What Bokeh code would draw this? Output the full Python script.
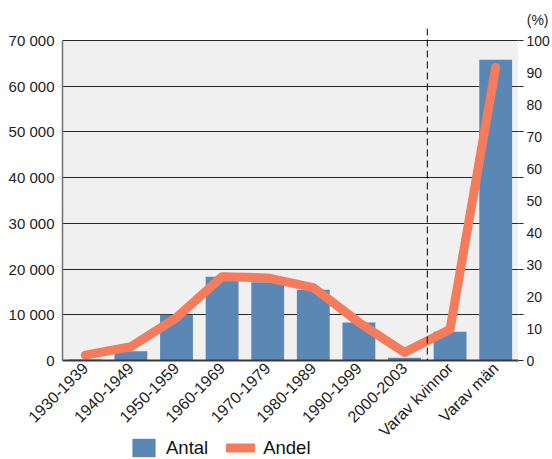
from math import pi
from bokeh.plotting import figure
from bokeh.layouts import column
from bokeh.models import (FactorRange, Range1d, LinearAxis, FixedTicker, Span,
                          BoxAnnotation, Legend, LegendItem, ColumnDataSource)
from bokeh.embed import file_html
from bokeh.resources import INLINE

categories = ["1930-1939", "1940-1949", "1950-1959", "1960-1969", "1970-1979",
              "1980-1989", "1990-1999", "2000-2003", "Varav kvinnor", "Varav män"]
antal = [200, 2000, 10000, 18300, 17100, 15500, 8300, 600, 6300, 65800]
andel = [1.7, 4.3, 13.4, 26.2, 25.8, 22.8, 11.9, 2.5, 9.8, 91.6]
left_ticks = [0, 10000, 20000, 30000, 40000, 50000, 60000, 70000]
left_labels = ["0", "10 000", "20 000", "30 000", "40 000", "50 000", "60 000", "70 000"]
right_ticks = [0, 10, 20, 30, 40, 50, 60, 70, 80, 90, 100]
series_names = ["Antal", "Andel"]
divider_after = "2000-2003"

FONT = "Liberation Sans"
BAR = "#5b87b5"
LINE = "#f47b5c"
HEADROOM = 1 + 12 / 320  # frame extends a little above the top gridline

src = ColumnDataSource(dict(cat=categories, antal=antal, andel=andel))

p = figure(width=552, height=448, output_backend="svg", toolbar_location=None,
           x_range=FactorRange(factors=categories, range_padding=0),
           y_range=Range1d(0, left_ticks[-1] * HEADROOM),
           min_border_left=62, min_border_right=34, min_border_top=28,
           min_border_bottom=88,
           title="(%)", title_location="above")
p.extra_y_ranges = {"pct": Range1d(0, right_ticks[-1] * HEADROOM)}
p.background_fill_color = "white"
p.border_fill_color = "white"
p.outline_line_color = None

p.title.align = "right"
p.title.offset = -30
p.title.standoff = 1
p.title.text_font = FONT
p.title.text_font_size = "14px"
p.title.text_font_style = "normal"
p.title.text_color = "#222222"

bg = BoxAnnotation(bottom=0, top=left_ticks[-1], fill_color="#f0f0f0",
                   fill_alpha=1, line_color=None, level="image")
p.add_layout(bg)

bar_style = dict(fill_color=BAR, line_color=None)
line_style = dict(line_color=LINE, line_width=9, line_join="round", line_cap="round")

bars = p.vbar(x="cat", top="antal", width=0.72, source=src, **bar_style)
line = p.line(x="cat", y="andel", source=src, y_range_name="pct", **line_style)

# grid
p.xgrid.grid_line_color = None
p.ygrid.grid_line_color = "#262626"
p.ygrid.grid_line_width = 1
p.ygrid.ticker = FixedTicker(ticks=left_ticks)

# left axis
ya = p.yaxis[0]
ya.ticker = FixedTicker(ticks=left_ticks)
ya.bounds = (0, left_ticks[-1])
ya.major_label_overrides = {t: l for t, l in zip(left_ticks, left_labels)}
ya.major_label_text_font = FONT
ya.major_label_text_font_size = "15px"
ya.major_label_text_color = "#222222"
ya.axis_line_color = "#707070"
ya.axis_line_width = 1.5
ya.major_tick_line_color = None
ya.major_tick_out = 0
ya.major_tick_in = 0
ya.minor_tick_line_color = None
ya.major_label_standoff = 8

# short tick marks on the right at the gridline positions
ta = LinearAxis(ticker=FixedTicker(ticks=left_ticks), bounds=(0, left_ticks[-1]))
ta.major_label_overrides = {t: "" for t in left_ticks}
ta.axis_line_color = None
ta.major_tick_line_color = "#262626"
ta.major_tick_line_width = 1
ta.major_tick_out = 5
ta.major_tick_in = 0
ta.minor_tick_line_color = None
ta.major_label_standoff = 0
p.add_layout(ta, "right")

# right axis (percent)
ra = LinearAxis(y_range_name="pct", ticker=FixedTicker(ticks=right_ticks),
                bounds=(0, right_ticks[-1]))
ra.major_label_text_font = FONT
ra.major_label_text_font_size = "14px"
ra.major_label_text_color = "#222222"
ra.axis_line_color = None
ra.major_tick_line_color = None
ra.major_tick_out = 0
ra.major_tick_in = 0
ra.minor_tick_line_color = None
ra.major_label_standoff = 3
p.add_layout(ra, "right")

# x axis
xa = p.xaxis[0]
xa.major_label_orientation = pi / 4
xa.major_label_text_font = FONT
xa.major_label_text_font_size = "16px"
xa.major_label_text_color = "#222222"
xa.axis_line_color = "#3a3a3a"
xa.axis_line_width = 2
xa.major_tick_line_color = None
xa.major_tick_out = 0
xa.major_tick_in = 0
xa.minor_tick_line_color = None
xa.major_label_standoff = 5

# divider between periods and gender split
div_x = categories.index(divider_after) + 1
p.add_layout(Span(location=div_x, dimension="height", line_color="black",
                  line_width=1, line_dash="7 4"))

# legend strip below the chart (its renderers share the data but are hidden)
lg = figure(width=552, height=23, output_backend="svg", toolbar_location=None,
            x_range=FactorRange(factors=categories), y_range=Range1d(0, 1),
            x_axis_type=None, y_axis_type=None,
            min_border_left=0, min_border_right=0, min_border_top=0,
            min_border_bottom=0)
lg.margin = (-12, 0, 0, 0)
lg.outline_line_color = None
lg.xgrid.visible = False
lg.ygrid.visible = False
lb = lg.vbar(x="cat", top="antal", width=0.72, source=src, visible=False, **bar_style)
ll = lg.line(x="cat", y="andel", source=src, visible=False, **line_style)
legend = Legend(items=[LegendItem(label=series_names[0], renderers=[lb]),
                       LegendItem(label=series_names[1], renderers=[ll])],
                orientation="horizontal", location=(67, 0),
                label_text_font=FONT, label_text_font_size="18.5px",
                label_text_color="#111111",
                glyph_width=29, glyph_height=23, label_standoff=8, spacing=18,
                padding=0, margin=0, border_line_color=None,
                background_fill_alpha=0, inactive_fill_alpha=0)
lg.add_layout(legend, "center")

open("out.html", "w").write(file_html(column(p, lg), INLINE))
